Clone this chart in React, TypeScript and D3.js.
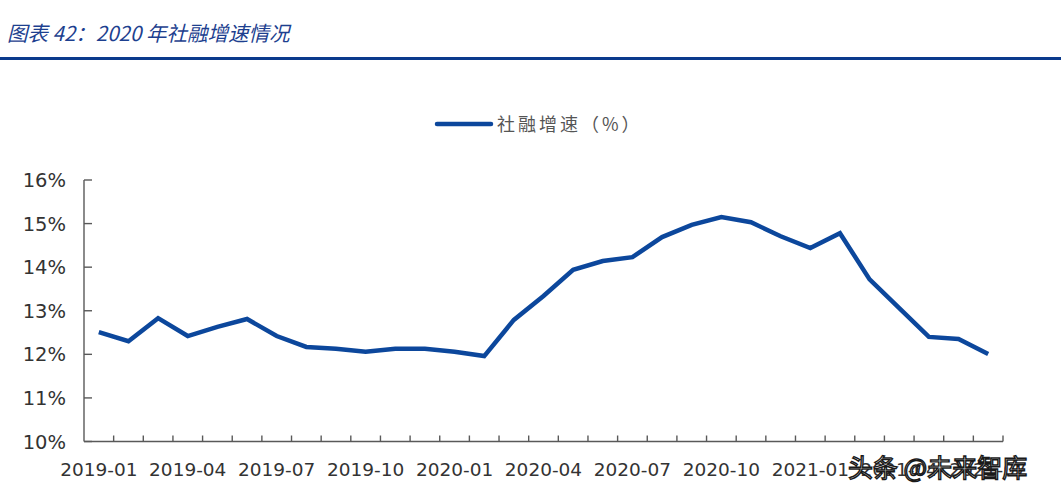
import { useEffect } from 'react';
import * as d3 from 'd3';

// monthly 社融增速, 2019-01 .. 2021-07
const months = [
  '2019-01', '2019-02', '2019-03', '2019-04', '2019-05', '2019-06', '2019-07', '2019-08',
  '2019-09', '2019-10', '2019-11', '2019-12', '2020-01', '2020-02', '2020-03', '2020-04',
  '2020-05', '2020-06', '2020-07', '2020-08', '2020-09', '2020-10', '2020-11', '2020-12',
  '2021-01', '2021-02', '2021-03', '2021-04', '2021-05', '2021-06', '2021-07',
];
const tsfGrowth = [
  12.51, 12.3, 12.83, 12.42, 12.63, 12.81, 12.42, 12.17,
  12.13, 12.06, 12.13, 12.13, 12.06, 11.96, 12.79, 13.34,
  13.94, 14.14, 14.23, 14.69, 14.97, 15.15, 15.03, 14.71,
  14.44, 14.78, 13.72, 13.06, 12.4, 12.35, 12.01,
];
const yTicks = [10, 11, 12, 13, 14, 15, 16];
const xLabelEvery = 3;

const titleText = '图表 42：2020 年社融增速情况';
const legendText = '社融增速（%）';
const watermark = '头条 @未来智库';

const W = 1061;
const H = 502;
const BLUE = '#0c479c';
const AXIS = '#595959';

export default function App() {
  useEffect(() => {
    document.body.style.margin = '0';
  }, []);

  const x = d3.scaleBand<string>().domain(months).range([84, 1003]).paddingInner(0).paddingOuter(0);
  const y = d3.scaleLinear().domain([10, 16]).range([441.5, 180]);
  const bw = x.bandwidth();
  const cx = (m: string) => (x(m) as number) + bw / 2;

  const line = d3
    .line<number>()
    .x((_, i) => cx(months[i]))
    .y((d) => y(d));

  const [x0, x1] = x.range();
  const [yb, yt] = [y(10), y(16)];

  return (
    <svg width={W} height={H} style={{ display: 'block', background: '#fff' }}>
      {/* title */}
      <text
        x={7}
        y={41}
        fontFamily="'Noto Sans CJK SC', sans-serif"
        fontStyle="italic"
        fontSize={20.5}
        fill="#1d3f8f"
      >
        {titleText}
      </text>
      <rect x={0} y={57} width={W} height={3} fill="#0b3a8c" />

      {/* legend */}
      <line x1={437} x2={491} y1={124} y2={124} stroke={BLUE} strokeWidth={4.5} strokeLinecap="round" />
      <text
        x={497}
        y={131}
        fontFamily="'Noto Sans CJK SC', sans-serif"
        fontSize={18}
        letterSpacing={3}
        fill="#555"
      >
        {legendText}
      </text>

      {/* y axis */}
      <line x1={x0} x2={x0} y1={yt} y2={yb} stroke={AXIS} strokeWidth={1.4} />
      {yTicks.map((t) => (
        <g key={t}>
          <line x1={x0} x2={x0 + 8} y1={y(t)} y2={y(t)} stroke={AXIS} strokeWidth={1.4} />
          <text
            x={66}
            y={y(t)}
            dy="0.36em"
            textAnchor="end"
            fontFamily="'DejaVu Sans', sans-serif"
            fontSize={19.5}
            fill="#333"
          >
            {t}%
          </text>
        </g>
      ))}

      {/* x axis */}
      <line x1={x0} x2={x1} y1={yb} y2={yb} stroke={AXIS} strokeWidth={1.4} />
      {months.map((m, i) => (
        <line
          key={m}
          x1={(x(m) as number) + bw}
          x2={(x(m) as number) + bw}
          y1={yb}
          y2={yb - 6}
          stroke={AXIS}
          strokeWidth={1.4}
        />
      ))}
      {months
        .filter((_, i) => i % xLabelEvery === 0)
        .map((m) => (
          <text
            key={m}
            x={cx(m)}
            y={476}
            textAnchor="middle"
            fontFamily="'DejaVu Sans', sans-serif"
            fontSize={18.5}
            fill="#333"
          >
            {m}
          </text>
        ))}

      {/* series */}
      <path
        d={line(tsfGrowth) || ''}
        fill="none"
        stroke={BLUE}
        strokeWidth={4.5}
        strokeLinejoin="miter"
      />

      {/* watermark */}
      <text
        x={848}
        y={477}
        fontFamily="'Noto Sans CJK SC', sans-serif"
        fontSize={25}
        fill="#fff"
        stroke="#1a1a1a"
        strokeWidth={1.4}
      >
        {watermark}
      </text>
    </svg>
  );
}
